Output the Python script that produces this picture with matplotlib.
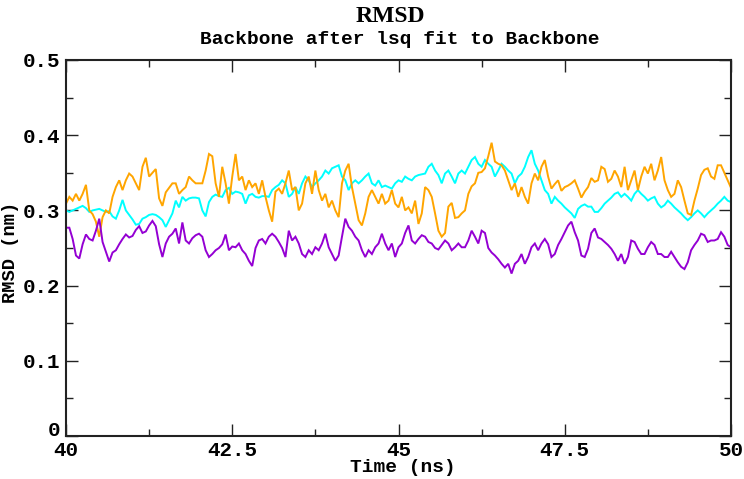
import numpy as np
import matplotlib
matplotlib.use("Agg")
import matplotlib.pyplot as plt
from matplotlib.ticker import MultipleLocator, FormatStrFormatter, FuncFormatter

# ---- data ----
t_start, t_end = 40.0, 50.0

rmsd_violet = [
    0.277, 0.277, 0.262, 0.240, 0.236, 0.255, 0.268, 0.262, 0.260, 0.273, 0.289,
    0.258, 0.245, 0.232, 0.244, 0.247, 0.255, 0.262, 0.268, 0.264, 0.266, 0.274,
    0.279, 0.270, 0.272, 0.280, 0.286, 0.279, 0.255, 0.238, 0.256, 0.265, 0.269,
    0.276, 0.256, 0.284, 0.260, 0.256, 0.263, 0.267, 0.269, 0.265, 0.247, 0.238,
    0.242, 0.247, 0.250, 0.255, 0.268, 0.247, 0.252, 0.251, 0.256, 0.247, 0.242,
    0.233, 0.226, 0.250, 0.260, 0.262, 0.256, 0.265, 0.269, 0.265, 0.258, 0.250,
    0.238, 0.273, 0.260, 0.265, 0.256, 0.242, 0.238, 0.247, 0.242, 0.251, 0.247,
    0.256, 0.269, 0.251, 0.242, 0.233, 0.240, 0.265, 0.289, 0.278, 0.273, 0.265,
    0.260, 0.247, 0.238, 0.247, 0.242, 0.251, 0.256, 0.269, 0.256, 0.247, 0.256,
    0.238, 0.251, 0.256, 0.270, 0.280, 0.260, 0.256, 0.262, 0.267, 0.265, 0.258,
    0.256, 0.250, 0.248, 0.254, 0.260, 0.256, 0.247, 0.251, 0.256, 0.251, 0.251,
    0.260, 0.273, 0.265, 0.256, 0.273, 0.270, 0.250, 0.244, 0.240, 0.235, 0.229,
    0.224, 0.229, 0.216, 0.229, 0.233, 0.242, 0.229, 0.238, 0.251, 0.256, 0.247,
    0.256, 0.262, 0.255, 0.238, 0.242, 0.254, 0.262, 0.271, 0.280, 0.285, 0.271,
    0.260, 0.240, 0.238, 0.249, 0.270, 0.276, 0.264, 0.262, 0.258, 0.254, 0.249,
    0.242, 0.233, 0.242, 0.229, 0.238, 0.260, 0.258, 0.249, 0.242, 0.242, 0.251,
    0.258, 0.254, 0.242, 0.242, 0.238, 0.238, 0.245, 0.238, 0.231, 0.225, 0.222,
    0.231, 0.247, 0.254, 0.260, 0.269, 0.267, 0.258, 0.260, 0.260, 0.262, 0.271,
    0.265, 0.254, 0.251,
]

rmsd_cyan = [
    0.300, 0.298, 0.300, 0.302, 0.304, 0.306, 0.303, 0.298, 0.300, 0.301, 0.302,
    0.300, 0.298, 0.299, 0.292, 0.289, 0.300, 0.314, 0.300, 0.294, 0.288, 0.281,
    0.282, 0.289, 0.291, 0.294, 0.295, 0.294, 0.291, 0.287, 0.278, 0.287, 0.296,
    0.313, 0.304, 0.318, 0.313, 0.316, 0.317, 0.317, 0.316, 0.300, 0.292, 0.311,
    0.318, 0.321, 0.319, 0.318, 0.327, 0.330, 0.322, 0.325, 0.324, 0.322, 0.309,
    0.320, 0.322, 0.318, 0.317, 0.319, 0.319, 0.318, 0.327, 0.331, 0.334, 0.340,
    0.336, 0.318, 0.322, 0.331, 0.322, 0.336, 0.345, 0.340, 0.331, 0.336, 0.340,
    0.345, 0.353, 0.349, 0.356, 0.358, 0.360, 0.345, 0.340, 0.327, 0.336, 0.340,
    0.336, 0.340, 0.345, 0.349, 0.336, 0.333, 0.340, 0.331, 0.333, 0.331, 0.329,
    0.336, 0.340, 0.338, 0.345, 0.342, 0.340, 0.345, 0.347, 0.348, 0.349, 0.358,
    0.362, 0.353, 0.347, 0.336, 0.349, 0.353, 0.345, 0.336, 0.349, 0.353, 0.349,
    0.358, 0.367, 0.371, 0.362, 0.358, 0.367, 0.362, 0.358, 0.345, 0.353, 0.362,
    0.358, 0.353, 0.349, 0.336, 0.345, 0.349, 0.358, 0.371, 0.380, 0.362, 0.353,
    0.340, 0.327, 0.322, 0.309, 0.318, 0.313, 0.309, 0.304, 0.300, 0.296, 0.290,
    0.302, 0.306, 0.308, 0.305, 0.305, 0.298, 0.298, 0.303, 0.309, 0.313, 0.317,
    0.322, 0.324, 0.318, 0.322, 0.318, 0.313, 0.322, 0.327, 0.322, 0.318, 0.313,
    0.316, 0.318, 0.309, 0.304, 0.307, 0.313, 0.309, 0.304, 0.300, 0.296, 0.291,
    0.287, 0.291, 0.296, 0.300, 0.296, 0.291, 0.296, 0.300, 0.304, 0.309, 0.313,
    0.318, 0.313, 0.311,
]

rmsd_orange = [
    0.309, 0.318, 0.313, 0.322, 0.313, 0.322, 0.334, 0.300, 0.295, 0.285, 0.265,
    0.291, 0.300, 0.296, 0.318, 0.331, 0.340, 0.327, 0.340, 0.349, 0.345, 0.336,
    0.327, 0.358, 0.370, 0.345, 0.350, 0.355, 0.316, 0.306, 0.324, 0.330, 0.336,
    0.336, 0.322, 0.327, 0.331, 0.345, 0.340, 0.336, 0.336, 0.336, 0.353, 0.375,
    0.372, 0.336, 0.318, 0.358, 0.336, 0.309, 0.345, 0.375, 0.340, 0.345, 0.327,
    0.340, 0.331, 0.336, 0.322, 0.340, 0.318, 0.300, 0.285, 0.325, 0.329, 0.322,
    0.336, 0.353, 0.327, 0.331, 0.300, 0.309, 0.336, 0.345, 0.322, 0.353, 0.327,
    0.313, 0.322, 0.304, 0.313, 0.300, 0.291, 0.336, 0.353, 0.362, 0.331, 0.309,
    0.287, 0.280, 0.296, 0.318, 0.327, 0.318, 0.309, 0.322, 0.309, 0.313, 0.327,
    0.309, 0.304, 0.318, 0.300, 0.304, 0.296, 0.313, 0.282, 0.296, 0.331, 0.327,
    0.318, 0.296, 0.273, 0.265, 0.270, 0.305, 0.310, 0.290, 0.291, 0.296, 0.300,
    0.322, 0.332, 0.336, 0.350, 0.351, 0.356, 0.372, 0.390, 0.365, 0.362, 0.360,
    0.353, 0.340, 0.327, 0.336, 0.318, 0.331, 0.318, 0.309, 0.336, 0.349, 0.340,
    0.358, 0.367, 0.345, 0.329, 0.335, 0.340, 0.326, 0.331, 0.333, 0.336, 0.340,
    0.329, 0.317, 0.325, 0.331, 0.343, 0.338, 0.340, 0.358, 0.355, 0.338, 0.342,
    0.353, 0.345, 0.331, 0.358, 0.327, 0.340, 0.353, 0.327, 0.345, 0.358, 0.349,
    0.362, 0.340, 0.353, 0.371, 0.340, 0.327, 0.318, 0.322, 0.340, 0.331, 0.313,
    0.296, 0.294, 0.313, 0.329, 0.347, 0.354, 0.356, 0.345, 0.342, 0.360, 0.360,
    0.350, 0.340, 0.330,
]

title = "RMSD"
subtitle = "Backbone after lsq fit to Backbone"
xlabel = "Time (ns)"
ylabel = "RMSD (nm)"

# ---- figure ----
W, H = 744, 479
fig = plt.figure(figsize=(W / 100, H / 100), dpi=100)
L, R, T, B = 66, 731, 60, 436
ax = fig.add_axes([L / W, 1 - B / H, (R - L) / W, (B - T) / H])

mono = "Liberation Mono"
serif = "Liberation Serif"

series = [
    (rmsd_cyan, "#00FFFF"),
    (rmsd_orange, "#FFA500"),
    (rmsd_violet, "#9400D3"),
]
for vals, col in series:
    t = np.linspace(t_start, t_end, len(vals))
    ax.plot(t, vals, color=col, lw=1.4, solid_joinstyle="miter")

ax.set_xlim(40, 50)
ax.set_ylim(0, 0.5)
ax.xaxis.set_major_locator(MultipleLocator(2.5))
ax.xaxis.set_minor_locator(MultipleLocator(1.25))
ax.yaxis.set_major_locator(MultipleLocator(0.1))
ax.yaxis.set_minor_locator(MultipleLocator(0.05))
ax.xaxis.set_major_formatter(FormatStrFormatter("%g"))
# the "0" label at the origin is placed separately (nudged up to clear "40")
ax.yaxis.set_major_formatter(FuncFormatter(lambda v, p: "" if abs(v) < 1e-9 else "%g" % v))

ax.tick_params(which="both", direction="in", top=True, right=True,
               color="#222222")
ax.tick_params(which="major", length=8.5, width=1.0, labelsize=15)
ax.tick_params(which="minor", length=5, width=1.0)
ax.tick_params(axis="x", which="major", pad=3.5)
ax.tick_params(axis="y", which="major", pad=4.5)
for lab in ax.get_xticklabels() + ax.get_yticklabels():
    lab.set_fontfamily(mono)
    lab.set_fontweight("bold")
for sp in ax.spines.values():
    sp.set_linewidth(1.5)
    sp.set_color("#222222")

fig.text(60 / W, 1 - 431 / H, "0", ha="right", va="center",
         fontfamily=mono, fontweight="bold", fontsize=15)

fig.text(390 / W, 1 - 16 / H, title, ha="center", va="center",
         fontfamily=serif, fontweight="bold", fontsize=17)
fig.text(400 / W, 1 - 39 / H, subtitle, ha="center", va="center",
         fontfamily=mono, fontweight="bold", fontsize=14)
fig.text(403 / W, 1 - 467 / H, xlabel, ha="center", va="center",
         fontfamily=mono, fontweight="bold", fontsize=14)
fig.text(11 / W, 1 - 252 / H, ylabel, ha="center", va="center",
         rotation=90, fontfamily=mono, fontweight="bold", fontsize=13.5)

fig.savefig("out.png", dpi=100)
